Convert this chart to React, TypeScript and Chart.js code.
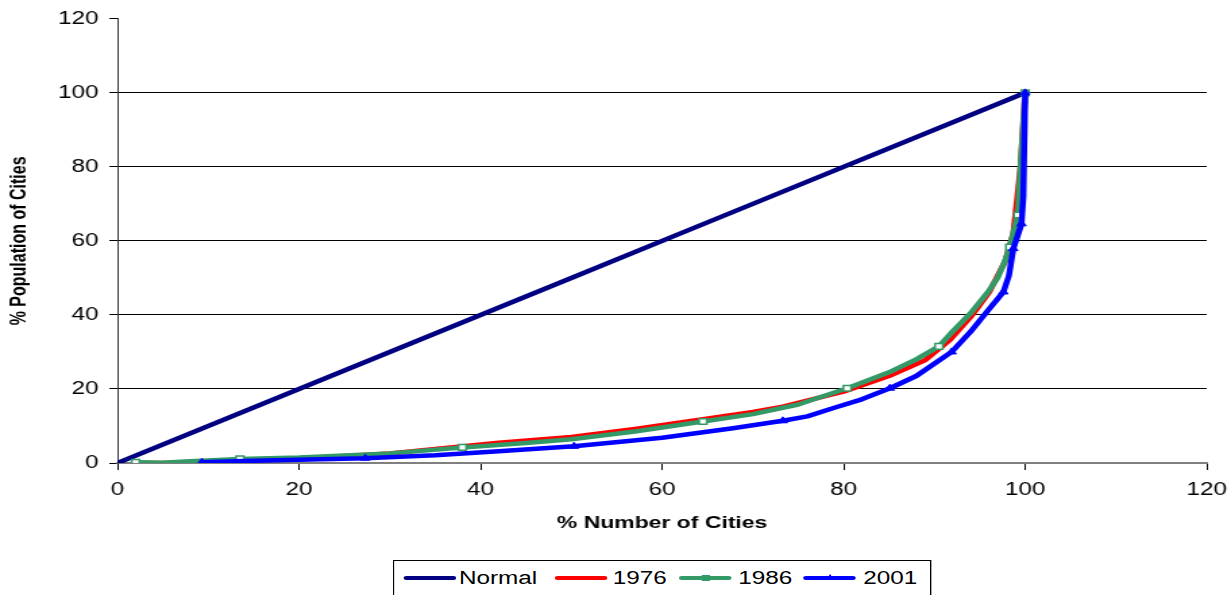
import React, { useEffect, useRef } from "react";
import { Chart, registerables } from "chart.js";

Chart.register(...registerables);

// ---------- data ----------
const SERIES_NAMES = ["Normal", "1976", "1986", "2001"];
const SERIES_COLORS = ["#000080", "#FF0000", "#339966", "#0000FF"];

const NORMAL_X = [0, 25, 50, 65, 100];
const NORMAL_Y = [0, 25, 50, 65, 100];

const X_1976 = [2, 5, 10, 20, 30, 42, 50, 57, 64.5, 70, 73.3, 80.3, 85, 89, 91.7, 94, 96, 97.8, 98.7, 99.5, 100];
const Y_1976 = [0, 0, 0.3, 1.2, 2.6, 5.5, 7.0, 9.2, 11.8, 13.8, 15.2, 19.5, 23.5, 27.8, 33.2, 39.5, 46, 54.5, 62, 80, 100];

const X_1986 = [2, 5, 8, 13.5, 20, 30, 38, 45, 50, 57, 64.5, 70, 75, 80.4, 85, 88, 90.5, 92, 94, 96, 97, 97.8, 98.3, 99.2, 99.5, 100];
const Y_1986 = [0.2, 0.1, 0.5, 1.1, 1.5, 2.6, 4.2, 5.4, 6.4, 8.5, 11.2, 13.2, 15.8, 20.2, 24.5, 28, 31.5, 35.5, 40.5, 46.5, 50.2, 54.7, 58.3, 67, 80, 100];
const MARKERS_1986 = [0, 3, 6, 10, 13, 16, 22, 23, 25];

const X_2001 = [9.3, 15, 20, 27.3, 35, 42, 50.3, 60, 67.8, 73.3, 76, 78.8, 82, 85.1, 88, 91.9, 94, 96, 97.6, 98.2, 98.7, 99.6, 99.8, 100];
const Y_2001 = [0.2, 0.6, 0.9, 1.3, 2.1, 3.2, 4.5, 6.8, 9.4, 11.4, 12.6, 14.8, 17.2, 20.2, 23.5, 30.0, 35.5, 41.5, 46.2, 50.5, 57.9, 64.6, 72, 100];
const MARKERS_2001 = [0, 3, 6, 9, 13, 15, 18, 20, 21, 23];

const X_TITLE = "% Number of Cities";
const Y_TITLE = "% Population of Cities";
const AXIS_MIN = 0;
const AXIS_MAX = 120;
const AXIS_STEP = 20;

// ---------- layout ----------
const W = 912;
const H = 595;
const STRETCH = 1231 / W;
const FONT = "'Liberation Sans', Arial, sans-serif";

const pts = (xs: number[], ys: number[]) => xs.map((x, i) => ({ x, y: ys[i] }));

export default function App() {
  const ref = useRef<HTMLCanvasElement>(null);

  useEffect(() => {
    const canvas = ref.current!;
    const markerRadius = (list: number[]) => (c: any) => (list.includes(c.dataIndex) ? 4 : 0);
    const chart = new Chart(canvas, {
      type: "line",
      data: {
        datasets: [
          {
            label: SERIES_NAMES[0],
            data: pts(NORMAL_X, NORMAL_Y),
            borderColor: SERIES_COLORS[0],
            backgroundColor: SERIES_COLORS[0],
            borderWidth: 4.5,
            pointRadius: 0,
            order: 3,
          },
          {
            label: SERIES_NAMES[1],
            data: pts(X_1976, Y_1976),
            borderColor: SERIES_COLORS[1],
            backgroundColor: SERIES_COLORS[1],
            borderWidth: 4.5,
            pointRadius: 0,
            order: 2,
          },
          {
            label: SERIES_NAMES[2],
            data: pts(X_1986, Y_1986),
            borderColor: SERIES_COLORS[2],
            backgroundColor: "#ffffff",
            borderWidth: 4.5,
            pointStyle: "rect",
            pointRadius: markerRadius(MARKERS_1986),
            pointBorderWidth: 1.5,
            pointBorderColor: SERIES_COLORS[2],
            pointBackgroundColor: "#ffffff",
            order: 1,
          },
          {
            label: SERIES_NAMES[3],
            data: pts(X_2001, Y_2001),
            borderColor: SERIES_COLORS[3],
            backgroundColor: SERIES_COLORS[3],
            borderWidth: 4.5,
            pointStyle: "triangle",
            pointRadius: markerRadius(MARKERS_2001),
            pointBorderWidth: 1,
            pointBorderColor: SERIES_COLORS[3],
            pointBackgroundColor: SERIES_COLORS[3],
            order: 0,
          },
        ] as any,
      },
      options: {
        animation: false,
        responsive: false,
        maintainAspectRatio: false,
        elements: { line: { tension: 0, borderJoinStyle: "round", borderCapStyle: "round" } },
        layout: { padding: { left: 0, right: 18, top: 18, bottom: 0 } },
        plugins: { legend: { display: false }, tooltip: { enabled: false } },
        scales: {
          x: {
            type: "linear",
            min: AXIS_MIN,
            max: AXIS_MAX,
            ticks: { stepSize: AXIS_STEP, color: "#000", font: { family: FONT, size: 18 }, padding: 9, maxRotation: 0 },
            grid: { drawOnChartArea: false, tickLength: 7, tickColor: "#000", tickWidth: 1 },
            border: { color: "#808080", width: 2 },
            title: {
              display: true,
              text: X_TITLE,
              color: "#000",
              font: { family: FONT, size: 17, weight: "bold" },
              padding: { top: 0, bottom: 61 },
            },
            afterFit: (s: any) => {
              s.height = 132;
              s.paddingRight = 0;
              s.paddingLeft = 0;
            },
          },
          y: {
            type: "linear",
            min: AXIS_MIN,
            max: AXIS_MAX,
            ticks: { stepSize: AXIS_STEP, color: "#000", font: { family: FONT, size: 18 }, padding: 8 },
            grid: {
              color: (c: any) =>
                c.tick && (c.tick.value === AXIS_MIN || c.tick.value === AXIS_MAX) ? "rgba(0,0,0,0)" : "#000",
              lineWidth: 1,
              tickLength: 6,
              tickColor: "#000",
            },
            border: { color: "#333", width: 1 },
            title: {
              display: true,
              text: Y_TITLE,
              color: "#000",
              font: { family: FONT, size: 16, weight: "bold" },
              padding: { top: 5, bottom: 0 },
            },
            afterFit: (s: any) => {
              s.width = 87;
            },
          },
        },
      } as any,
    });
    return () => chart.destroy();
  }, []);

  const lineLefts = [7, 118.7, 210.5, 303];
  const textLefts = [48, 162, 255, 347.6];

  return (
    <div
      style={{
        position: "fixed",
        left: 0,
        top: 0,
        width: W,
        height: H,
        background: "#fff",
        transform: `scaleX(${STRETCH})`,
        transformOrigin: "0 0",
        overflow: "hidden",
      }}
    >
      <canvas ref={ref} width={W} height={H} style={{ width: W, height: H, display: "block" }} />
      <div
        style={{
          position: "absolute",
          left: 291,
          top: 560,
          width: 399,
          height: 40,
          border: "1px solid #000",
          boxSizing: "border-box",
          background: "#fff",
        }}
      >
        {SERIES_NAMES.map((name, i) => (
          <React.Fragment key={name}>
            <div
              style={{
                position: "absolute",
                left: lineLefts[i],
                top: 15,
                width: 39,
                height: 4,
                borderRadius: 2,
                background: SERIES_COLORS[i],
              }}
            />
            {i === 2 && (
              <div
                style={{
                  position: "absolute",
                  left: lineLefts[i] + 17,
                  top: 14,
                  width: 4,
                  height: 4,
                  border: `1px solid ${SERIES_COLORS[i]}`,
                  background: SERIES_COLORS[i],
                }}
              />
            )}
            {i === 3 && (
              <div
                style={{
                  position: "absolute",
                  left: lineLefts[i] + 16.5,
                  top: 13,
                  width: 0,
                  height: 0,
                  borderLeft: "3px solid transparent",
                  borderRight: "3px solid transparent",
                  borderBottom: `6px solid ${SERIES_COLORS[i]}`,
                }}
              />
            )}
            <div
              style={{
                position: "absolute",
                left: textLefts[i],
                top: 7,
                fontFamily: FONT,
                fontSize: 18,
                lineHeight: "20px",
                color: "#000",
                whiteSpace: "nowrap",
              }}
            >
              {name}
            </div>
          </React.Fragment>
        ))}
      </div>
    </div>
  );
}
